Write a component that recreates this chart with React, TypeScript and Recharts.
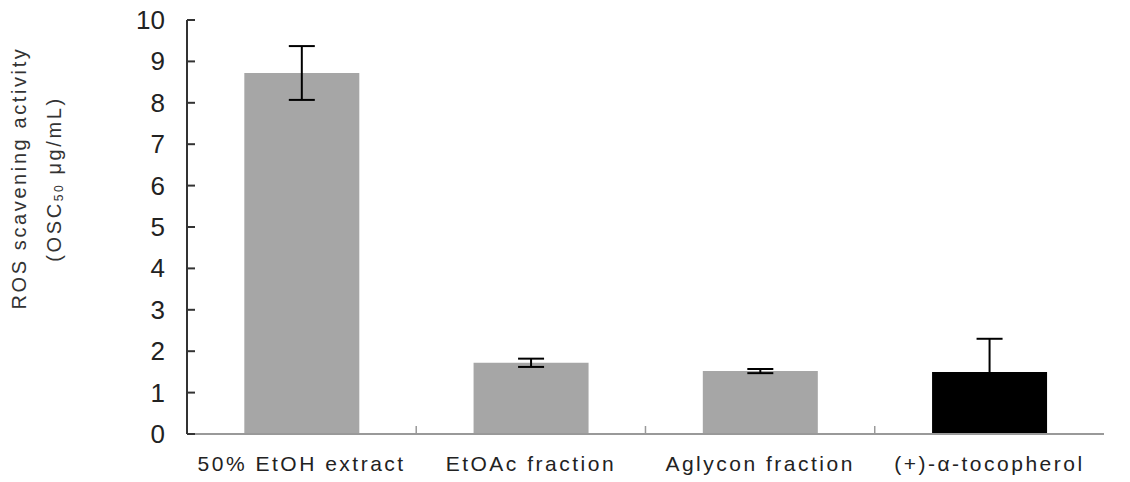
import { Bar, BarChart, Cell, ErrorBar, XAxis, YAxis } from "recharts";

const categories = [
  "50% EtOH extract",
  "EtOAc fraction",
  "Aglycon fraction",
  "(+)-α-tocopherol",
];
const scavenging = [8.72, 1.72, 1.52, 1.5];
const stdErrors = [0.65, 0.1, 0.05, 0.8];
const barColors = ["#a6a6a6", "#a6a6a6", "#a6a6a6", "#000000"];
const yTicks = [0, 1, 2, 3, 4, 5, 6, 7, 8, 9, 10];

const data = categories.map((name, i) => ({
  name,
  value: scavenging[i],
  err: stdErrors[i],
}));

const font = "'Liberation Sans', Arial, sans-serif";

function YTick(props: any) {
  const { x, y, payload } = props;
  return (
    <g>
      <line x1={x + 22} x2={x + 30} y1={y} y2={y} stroke="#333" strokeWidth={2} />
      <text
        x={x}
        y={y}
        dy={9}
        textAnchor="end"
        fontSize={26}
        fontFamily={font}
        fill="#222"
      >
        {payload.value}
      </text>
    </g>
  );
}

function XTick(props: any) {
  const { x, y, payload, index } = props;
  const half = 114.6;
  return (
    <g>
      {index < categories.length - 1 && (
        <line x1={x + half} x2={x + half} y1={y - 8} y2={y} stroke="#999" strokeWidth={1.5} />
      )}
      <text
        x={x}
        y={y}
        dy={37}
        textAnchor="middle"
        fontSize={21}
        letterSpacing={2.5}
        fontFamily={font}
        fill="#222"
      >
        {payload.value}
      </text>
    </g>
  );
}

function YTitle() {
  return (
    <g fontFamily={font} fill="#333" fontSize={20}>
      <text
        x={19}
        y={178}
        transform="rotate(-90, 19, 178)"
        textAnchor="middle"
        dominantBaseline="central"
        letterSpacing={2.6}
      >
        ROS scavening activity
      </text>
      <text
        x={54}
        y={179}
        transform="rotate(-90, 54, 179)"
        textAnchor="middle"
        dominantBaseline="central"
        letterSpacing={2.6}
      >
        (OSC
        <tspan fontSize={12} dy={5}>
          50
        </tspan>
        <tspan dy={-5}>{"  μg/mL)"}</tspan>
      </text>
    </g>
  );
}

export default function App() {
  return (
    <div style={{ position: "absolute", left: 0, top: 0, background: "#fff" }}>
      <BarChart
        width={1130}
        height={482}
        data={data}
        margin={{ top: 20, right: 26, bottom: 0, left: 80 }}
        barCategoryGap="25%"
      >
        <XAxis
          dataKey="name"
          interval={0}
          tickSize={0}
          tickMargin={0}
          tick={<XTick />}
          axisLine={{ stroke: "#999", strokeWidth: 2 }}
          height={48}
        />
        <XAxis
          xAxisId="top"
          orientation="top"
          dataKey="name"
          tick={false}
          tickLine={false}
          axisLine={{ stroke: "#999", strokeWidth: 2 }}
          height={0}
        />
        <YAxis
          domain={[0, 10]}
          ticks={yTicks}
          interval={0}
          tickSize={0}
          tickMargin={22}
          tick={<YTick />}
          axisLine={{ stroke: "#333", strokeWidth: 2 }}
          width={107}
          label={{ content: () => <YTitle /> }}
        />
        <YAxis
          yAxisId="right"
          orientation="right"
          domain={[0, 10]}
          tick={false}
          tickLine={false}
          axisLine={{ stroke: "#999", strokeWidth: 2 }}
          width={0}
        />
        <Bar dataKey="value" isAnimationActive={false}>
          {data.map((d, i) => (
            <Cell key={d.name} fill={barColors[i]} />
          ))}
          <ErrorBar dataKey="err" width={13} stroke="#000" strokeWidth={2} />
        </Bar>
      </BarChart>
    </div>
  );
}
